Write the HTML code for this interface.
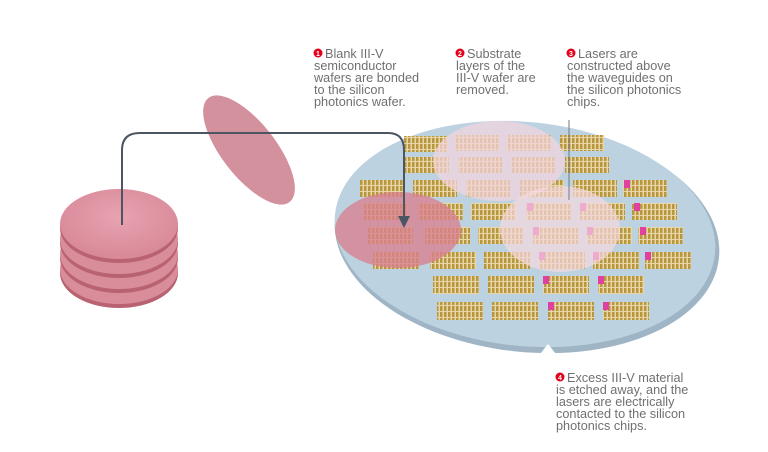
<!DOCTYPE html><html><head><style>body{margin:0;background:#fff}svg{display:block}text{font-family:"Liberation Sans",sans-serif;font-size:12.7px;fill:#707070}</style></head><body>
<svg width="768" height="452" viewBox="0 0 768 452">
<defs>
<pattern id="chp" width="4" height="6" patternUnits="userSpaceOnUse"><rect width="4" height="6" fill="#e6d6a8"/><rect width="2.5" height="5" fill="#b8963e"/></pattern>
<radialGradient id="pk" cx="50%" cy="40%" r="60%"><stop offset="0" stop-color="#e8a3b0"/><stop offset="1" stop-color="#d88898"/></radialGradient>
</defs>
<ellipse cx="527" cy="238" rx="193" ry="114" transform="rotate(6 527 238)" fill="#9fb5c6"/>
<ellipse cx="525" cy="234" rx="191" ry="112" transform="rotate(6 525 234)" fill="#bcd2e0"/>
<path d="M540 354 L548 344 L556 354 Z" fill="#fff"/>
<g fill="url(#chp)">
<rect x="404" y="136" width="44" height="16"/><rect x="455" y="135" width="44" height="16"/><rect x="507" y="135" width="44" height="16"/><rect x="560" y="135" width="44" height="16"/>
<rect x="405" y="157" width="44" height="16"/><rect x="458" y="157" width="44" height="16"/><rect x="511" y="157" width="44" height="16"/><rect x="565" y="157" width="44" height="16"/>
<rect x="360" y="180" width="44" height="17"/><rect x="413" y="180" width="44" height="17"/><rect x="466" y="180" width="44" height="17"/><rect x="520" y="180" width="44" height="17"/><rect x="573" y="180" width="44" height="17"/><rect x="623" y="180" width="44" height="17"/>
<rect x="363" y="203" width="45" height="17"/><rect x="418" y="203" width="45" height="17"/><rect x="471" y="203" width="45" height="17"/><rect x="526" y="203" width="45" height="17"/><rect x="580" y="203" width="45" height="17"/><rect x="632" y="203" width="45" height="17"/>
<rect x="368" y="227" width="45" height="17"/><rect x="425" y="227" width="45" height="17"/><rect x="478" y="227" width="45" height="17"/><rect x="533" y="227" width="45" height="17"/><rect x="587" y="227" width="45" height="17"/><rect x="638" y="227" width="45" height="17"/>
<rect x="373" y="252" width="46" height="17"/><rect x="430" y="252" width="46" height="17"/><rect x="484" y="252" width="46" height="17"/><rect x="539" y="252" width="46" height="17"/><rect x="593" y="252" width="46" height="17"/><rect x="645" y="252" width="46" height="17"/>
<rect x="433" y="276" width="46" height="18"/><rect x="488" y="276" width="46" height="18"/><rect x="543" y="276" width="46" height="18"/><rect x="598" y="276" width="46" height="18"/>
<rect x="437" y="302" width="46" height="18"/><rect x="492" y="302" width="46" height="18"/><rect x="548" y="302" width="46" height="18"/><rect x="603" y="302" width="46" height="18"/>
</g>
<g fill="#e040a0">
<rect x="624" y="180" width="6" height="8"/><rect x="634" y="203" width="6" height="8"/><rect x="640" y="227" width="6" height="8"/><rect x="645" y="252" width="6" height="8"/>
<rect x="543" y="276" width="6" height="8"/><rect x="598" y="276" width="6" height="8"/><rect x="548" y="302" width="6" height="8"/><rect x="603" y="302" width="6" height="8"/>
<rect x="527" y="203" width="6" height="8"/><rect x="580" y="203" width="6" height="8"/><rect x="533" y="227" width="6" height="8"/><rect x="587" y="227" width="6" height="8"/><rect x="539" y="252" width="6" height="8"/><rect x="593" y="252" width="6" height="8"/>
</g>
<ellipse cx="499" cy="161" rx="66" ry="40" fill="#f4d4de" opacity="0.72"/>
<ellipse cx="560" cy="229" rx="60" ry="43" fill="#f5d8e0" opacity="0.7"/>
<ellipse cx="398" cy="230" rx="63" ry="38" fill="#d8808f" opacity="0.78"/>
<line x1="569" y1="120" x2="569" y2="200" stroke="#777" stroke-width="1"/>
<g>
<ellipse cx="119" cy="273" rx="59" ry="35" fill="#b86272"/>
<ellipse cx="119" cy="269" rx="59" ry="35" fill="#d98d9b"/>
<ellipse cx="119" cy="258" rx="59" ry="35" fill="#b86272"/>
<ellipse cx="119" cy="254" rx="59" ry="35" fill="#d98d9b"/>
<ellipse cx="119" cy="243" rx="59" ry="35" fill="#b86272"/>
<ellipse cx="119" cy="239" rx="59" ry="35" fill="#d98d9b"/>
<ellipse cx="119" cy="228" rx="59" ry="35" fill="#b86272"/>
<ellipse cx="119" cy="224" rx="59" ry="35" fill="url(#pk)"/>
</g>
<ellipse cx="249" cy="150" rx="66" ry="27" transform="rotate(52 249 150)" fill="#d3909d"/>
<path d="M122 225 V150 Q122 133 140 133 H388 Q404 133 404 150 V218" fill="none" stroke="#4b5662" stroke-width="2"/>
<path d="M398 216 L410 216 L404 228 Z" fill="#4b5662"/>
<g fill="#e3001b"><circle cx="318" cy="53" r="4.5"/><circle cx="460" cy="53" r="4.5"/><circle cx="571" cy="53" r="4.5"/><circle cx="560" cy="377" r="4.5"/></g>
<g><text x="316" y="56" style="fill:#fff;font-size:7px;font-weight:bold">1</text><text x="458" y="56" style="fill:#fff;font-size:7px;font-weight:bold">2</text><text x="569" y="56" style="fill:#fff;font-size:7px;font-weight:bold">3</text><text x="558" y="380" style="fill:#fff;font-size:7px;font-weight:bold">4</text></g>
<text x="325" y="58">Blank III-V</text>
<text x="314" y="70">semiconductor</text>
<text x="314" y="82">wafers are bonded</text>
<text x="314" y="94">to the silicon</text>
<text x="314" y="106">photonics wafer.</text>
<text x="467" y="58">Substrate</text>
<text x="456" y="70">layers of the</text>
<text x="456" y="82">III-V wafer are</text>
<text x="456" y="94">removed.</text>
<text x="578" y="58">Lasers are</text>
<text x="567" y="70">constructed above</text>
<text x="567" y="82">the waveguides on</text>
<text x="567" y="94">the silicon photonics</text>
<text x="567" y="106">chips.</text>
<text x="567" y="382">Excess III-V material</text>
<text x="556" y="394">is etched away, and the</text>
<text x="556" y="406">lasers are electrically</text>
<text x="556" y="418">contacted to the silicon</text>
<text x="556" y="430">photonics chips.</text>
</svg></body></html>
